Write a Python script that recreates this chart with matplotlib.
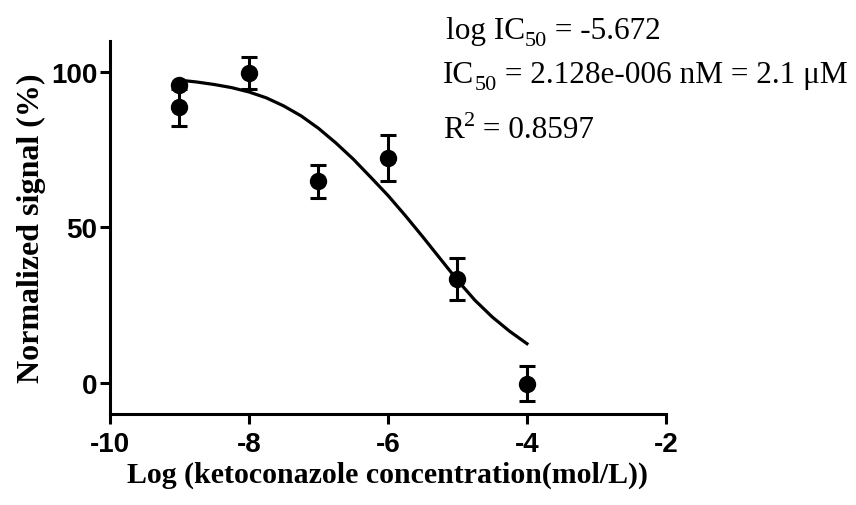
import matplotlib
matplotlib.use("Agg")
import matplotlib.pyplot as plt

plt.rcParams['axes.unicode_minus'] = False

# measured points
log_conc = [-9, -9, -8, -7, -6, -5, -4]
signal = [95.8, 88.7, 99.7, 64.8, 72.3, 33.5, -0.3]
sem = [0.0, 6.0, 5.2, 5.2, 7.3, 6.8, 5.6]

# fitted curve
curve_x = [-9.0, -8.75, -8.5, -8.25, -8.0, -7.75, -7.5, -7.25, -7.0, -6.75, -6.5,
           -6.25, -6.0, -5.75, -5.5, -5.25, -5.0, -4.75, -4.5, -4.25, -4.0]
curve_y = [97.4, 96.8, 96.0, 95.0, 93.6, 91.7, 89.1, 85.9, 81.9, 77.2, 72.0,
           66.2, 60.3, 53.8, 47.0, 40.0, 33.0, 26.6, 21.2, 16.6, 12.6]

xticks = [-10, -8, -6, -4, -2]
yticks = [0, 50, 100]

fig = plt.figure(figsize=(8.56, 5.06), dpi=100)
ax = fig.add_axes([0.1285, 0.180, 0.6495, 0.737])

ax.plot(curve_x, curve_y, color='black', lw=2.3, solid_joinstyle='round')
ax.errorbar(log_conc, signal, yerr=sem, fmt='o', color='black', ms=11.5,
            elinewidth=2.2, capsize=6, capthick=2.2)

ax.set_xlim(-10, -2)
ax.set_ylim(-10, 110)
ax.set_xticks(xticks)
ax.set_yticks(yticks)
for s in ['top', 'right']:
    ax.spines[s].set_visible(False)
for s in ['left', 'bottom']:
    ax.spines[s].set_linewidth(2.2)
ax.tick_params(width=2.2, length=7, direction='out')
ax.tick_params(axis='x', pad=5)
ax.tick_params(axis='y', pad=2)
for lab in ax.get_xticklabels() + ax.get_yticklabels():
    lab.set_fontfamily('Liberation Sans')
    lab.set_fontweight('bold')
    lab.set_fontsize(20)

ax.set_xlabel('Log (ketoconazole concentration(mol/L))', fontfamily='Liberation Serif',
              fontweight='bold', fontsize=21.5, labelpad=3)
ax.set_ylabel('Normalized signal (%)', fontfamily='Liberation Serif',
              fontweight='bold', fontsize=23, labelpad=4)

# annotation, drawn piece by piece so the sub/superscripts sit right
renderer = fig.canvas.get_renderer()
W, H = fig.bbox.width, fig.bbox.height


def chain(x_px, base_px, parts):
    x = x_px
    for s, size, dy in parts:
        t = fig.text(x / W, 1 - (base_px + dy) / H, s, fontfamily='Liberation Serif',
                     fontsize=size, ha='left', va='baseline')
        x += t.get_window_extent(renderer).width


big, small = 22.5, 16
chain(446, 39, [('log IC', big, 0), ('50', small, 7), (' = -5.672', big, 0)])
chain(443, 83, [('IC', big, 0), ('50', small, 7), (' = 2.128e-006 nM = 2.1 μM', big, 0)])
chain(443, 138, [('R', big, 0), ('2', small, -12), (' = 0.8597', big, 0)])

fig.savefig('out.png', dpi=100)
